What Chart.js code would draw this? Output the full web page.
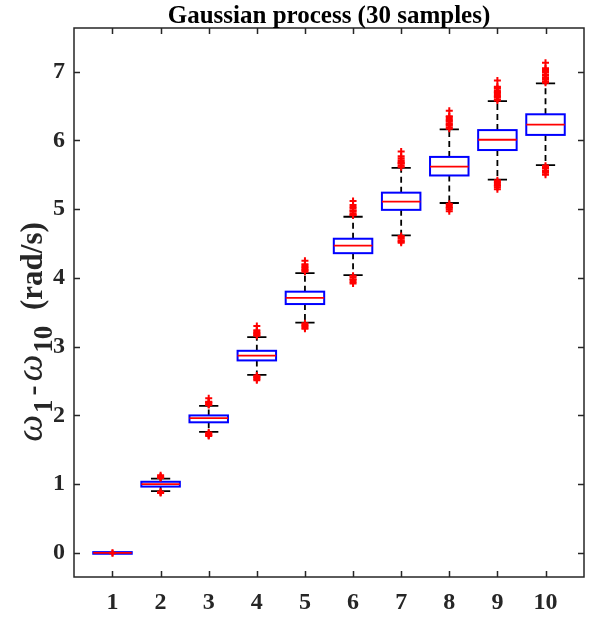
<!DOCTYPE html>
<html>
<head>
<meta charset="utf-8">
<script src="https://cdn.jsdelivr.net/npm/chart.js@4.4.1/dist/chart.umd.min.js"></script>
<style>
  html, body { margin: 0; padding: 0; background: #fff; }
</style>
</head>
<body>
<canvas id="c" width="590" height="617"></canvas>
<script>
// ---- data ----
const categories = [1, 2, 3, 4, 5, 6, 7, 8, 9, 10];
const medians     = [0.00, 1.00, 1.96, 2.87, 3.71, 4.47, 5.11, 5.62, 6.01, 6.23];
const q1          = [-0.012, 0.965, 1.90, 2.80, 3.62, 4.36, 4.99, 5.49, 5.86, 6.08];
const q3          = [0.012, 1.035, 2.00, 2.94, 3.80, 4.57, 5.24, 5.76, 6.15, 6.38];
const whiskerLow  = [0.00, 0.90, 1.76, 2.59, 3.35, 4.04, 4.62, 5.09, 5.43, 5.64];
const whiskerHigh = [0.00, 1.08, 2.14, 3.14, 4.07, 4.89, 5.60, 6.16, 6.57, 6.83];
const outliersHigh = [
  [0.004],
  [1.09, 1.10, 1.11, 1.13],
  [2.15, 2.16, 2.18, 2.19, 2.20, 2.25],
  [3.16, 3.17, 3.19, 3.20, 3.22, 3.24, 3.30],
  [4.09, 4.11, 4.12, 4.14, 4.16, 4.18, 4.20, 4.25],
  [4.91, 4.92, 4.94, 4.97, 4.98, 5.01, 5.03, 5.06, 5.12],
  [5.61, 5.63, 5.66, 5.67, 5.69, 5.71, 5.74, 5.77, 5.84],
  [6.17, 6.19, 6.22, 6.23, 6.25, 6.28, 6.29, 6.31, 6.34, 6.35, 6.43],
  [6.58, 6.60, 6.63, 6.64, 6.66, 6.69, 6.70, 6.72, 6.75, 6.77, 6.78, 6.87],
  [6.84, 6.86, 6.89, 6.90, 6.92, 6.95, 6.96, 6.99, 7.01, 7.03, 7.05, 7.13]
];
const outliersLow = [
  [-0.004],
  [0.89, 0.88, 0.87],
  [1.75, 1.74, 1.72, 1.71, 1.70],
  [2.58, 2.56, 2.55, 2.53, 2.51],
  [3.34, 3.32, 3.30, 3.28, 3.26],
  [4.03, 4.01, 3.98, 3.97, 3.94, 3.92],
  [4.61, 4.59, 4.57, 4.54, 4.53, 4.51],
  [5.08, 5.06, 5.03, 5.02, 5.00, 4.97],
  [5.42, 5.40, 5.38, 5.35, 5.34, 5.32, 5.29],
  [5.63, 5.61, 5.59, 5.56, 5.55, 5.53, 5.50]
];
const yTicks = [0, 1, 2, 3, 4, 5, 6, 7];
const titleText = 'Gaussian process (30 samples)';

const SERIF = "'Liberation Serif', 'Times New Roman', serif";
const AXIS_COLOR = '#262626';
const BOX_W = 0.8, CAP_W = 0.4;

const outlierPoints = [];
categories.forEach((c, i) => {
  outliersHigh[i].concat(outliersLow[i]).forEach(v => outlierPoints.push({ x: c, y: v }));
});

// boxes, whiskers and medians, placed through the chart's scales
const boxPlugin = {
  id: 'boxes',
  beforeDatasetsDraw(chart) {
    const { ctx, scales: { x, y } } = chart;
    ctx.save();
    categories.forEach((c, i) => {
      const xc = x.getPixelForValue(c);
      const bl = x.getPixelForValue(c - BOX_W / 2), br = x.getPixelForValue(c + BOX_W / 2);
      const cl = x.getPixelForValue(c - CAP_W / 2), cr = x.getPixelForValue(c + CAP_W / 2);
      const yq1 = y.getPixelForValue(q1[i]), yq3 = y.getPixelForValue(q3[i]);
      const ylo = y.getPixelForValue(whiskerLow[i]), yhi = y.getPixelForValue(whiskerHigh[i]);
      const ymed = y.getPixelForValue(medians[i]);

      ctx.strokeStyle = '#000';
      ctx.lineWidth = 1.8;
      ctx.setLineDash([6, 4]);
      ctx.beginPath();
      ctx.moveTo(xc, yq3); ctx.lineTo(xc, yhi);
      ctx.moveTo(xc, yq1); ctx.lineTo(xc, ylo);
      ctx.stroke();
      ctx.setLineDash([]);
      ctx.beginPath();
      ctx.moveTo(cl, yhi); ctx.lineTo(cr, yhi);
      ctx.moveTo(cl, ylo); ctx.lineTo(cr, ylo);
      ctx.stroke();

      ctx.strokeStyle = '#0000ff';
      ctx.lineWidth = 2;
      ctx.strokeRect(bl, yq3, br - bl, yq1 - yq3);

      ctx.strokeStyle = '#ff0000';
      ctx.lineWidth = 1.8;
      ctx.beginPath();
      ctx.moveTo(bl, ymed); ctx.lineTo(br, ymed);
      ctx.stroke();
    });
    ctx.restore();
  }
};

// axes frame with inward ticks on all four sides, title, and the y label with subscripts
const framePlugin = {
  id: 'frame',
  afterDraw(chart) {
    const { ctx, chartArea: a, scales: { x, y } } = chart;
    const tl = 6;
    ctx.save();
    ctx.strokeStyle = AXIS_COLOR;
    ctx.lineWidth = 1.5;
    ctx.strokeRect(a.left, a.top, a.right - a.left, a.bottom - a.top);
    ctx.beginPath();
    categories.forEach(c => {
      const px = Math.round(x.getPixelForValue(c)) + 0.5;
      ctx.moveTo(px, a.bottom); ctx.lineTo(px, a.bottom - tl);
      ctx.moveTo(px, a.top); ctx.lineTo(px, a.top + tl);
    });
    yTicks.forEach(v => {
      const py = Math.round(y.getPixelForValue(v)) + 0.5;
      ctx.moveTo(a.left, py); ctx.lineTo(a.left + tl, py);
      ctx.moveTo(a.right, py); ctx.lineTo(a.right - tl, py);
    });
    ctx.stroke();

    // title centred over the axes
    ctx.fillStyle = '#000';
    ctx.font = 'bold 25px ' + SERIF;
    ctx.textAlign = 'center';
    ctx.textBaseline = 'alphabetic';
    ctx.fillText(titleText, (a.left + a.right) / 2, 23);

    // y axis label: ω1-ω10 (rad/s)
    const parts = [
      { t: 'ω', font: 'italic 38px ' + SERIF, dy: 0, gap: 2 },
      { t: '1', font: 'bold 27px ' + SERIF, dy: 10, gap: 4 },
      { t: '-', font: 'bold 30px ' + SERIF, dy: 0, gap: 4 },
      { t: 'ω', font: 'italic 38px ' + SERIF, dy: 0, gap: 2 },
      { t: '10', font: 'bold 27px ' + SERIF, dy: 10, gap: 8 },
      { t: ' (rad/s)', font: 'bold 31px ' + SERIF, dy: 0, gap: 0 }
    ];
    let total = 0;
    parts.forEach(p => { ctx.font = p.font; p.w = ctx.measureText(p.t).width; total += p.w + p.gap; });
    ctx.translate(42, 332);
    ctx.rotate(-Math.PI / 2);
    ctx.fillStyle = AXIS_COLOR;
    ctx.textAlign = 'left';
    let cx = -total / 2;
    parts.forEach(p => {
      ctx.font = p.font;
      ctx.fillText(p.t, cx, p.dy);
      cx += p.w + p.gap;
    });
    ctx.restore();
  }
};

new Chart(document.getElementById('c'), {
  type: 'scatter',
  data: {
    datasets: [{
      label: 'outliers',
      data: outlierPoints,
      pointStyle: 'cross',
      pointRadius: 3.5,
      borderColor: '#ff0000',
      backgroundColor: '#ff0000',
      borderWidth: 2
    }]
  },
  options: {
    responsive: false,
    animation: false,
    devicePixelRatio: 1,
    layout: { padding: { top: 28, right: 3 } },
    plugins: {
      legend: { display: false },
      tooltip: { enabled: false },
      title: { display: false }
    },
    scales: {
      x: {
        type: 'linear',
        min: 0.2, max: 10.8,
        afterBuildTicks: s => { s.ticks = categories.map(v => ({ value: v })); },
        afterFit: s => { s.height = 40; },
        grid: { display: false, drawTicks: false },
        border: { display: false },
        ticks: { color: AXIS_COLOR, font: { family: SERIF, size: 24, weight: 'bold' }, padding: 11, maxRotation: 0, autoSkip: false }
      },
      y: {
        min: -0.35, max: 7.635,
        afterBuildTicks: s => { s.ticks = yTicks.map(v => ({ value: v })); },
        afterFit: s => { s.width = 74; },
        grid: { display: false, drawTicks: false },
        border: { display: false },
        ticks: { color: AXIS_COLOR, font: { family: SERIF, size: 24, weight: 'bold' }, padding: 9 }
      }
    }
  },
  plugins: [boxPlugin, framePlugin]
});
</script>
</body>
</html>
